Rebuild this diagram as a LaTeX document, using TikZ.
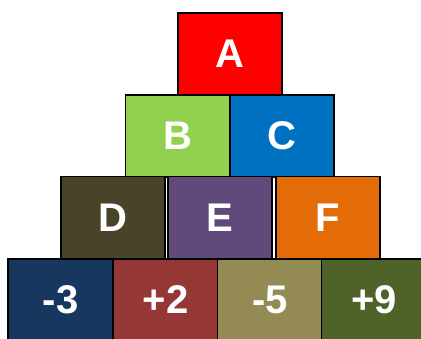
\documentclass[tikz,border=0pt]{standalone}
\usepackage{fontspec}
\setmainfont{Liberation Sans}
\usetikzlibrary{positioning}
\definecolor{cred}{HTML}{FF0000}
\definecolor{cgreen}{HTML}{92D050}
\definecolor{cblue}{HTML}{0070C0}
\definecolor{cbrown}{HTML}{494429}
\definecolor{cpurple}{HTML}{604A7B}
\definecolor{corange}{HTML}{E36C09}
\definecolor{cnavy}{HTML}{17375E}
\definecolor{cwine}{HTML}{953735}
\definecolor{ckhaki}{HTML}{948A54}
\definecolor{colive}{HTML}{4F6228}
\tikzset{
  block/.style={draw=black,line width=1.1pt,minimum width=104pt,minimum height=82pt,inner sep=0pt,outer sep=0pt,
    font=\bfseries\fontsize{40}{40}\selectfont,text=white},
  wideblock/.style={block,minimum width=105pt}
}
\begin{document}
\begin{tikzpicture}[x=1pt,y=-1pt]
\useasboundingbox (0,0) rectangle (421,338);
\clip (0,0) rectangle (421,338);
% top three rows
\foreach \n/\x/\y/\c/\t in {
a/230/54/cred/A,
b/177.5/136/cgreen/B,
c/282/136/cblue/C,
d/113/217.5/cbrown/D,
e/220/217.5/cpurple/E,
f/328/217.5/corange/F}
{\node[block,fill=\c] (\n) at (\x,\y) {\t};}
% bottom row
\foreach \n/\x/\c/\t in {
m3/60.5/cnavy/-3,
p2/165.5/cwine/+2,
m5/270/ckhaki/-5,
p9/374/colive/+9}
{\node[wideblock,fill=\c] (\n) at (\x,300) {\t};}
\end{tikzpicture}
\end{document}
